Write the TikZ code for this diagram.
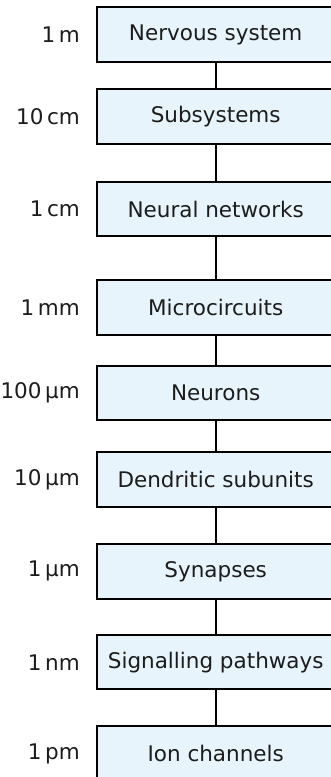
\documentclass[tikz,border=0pt]{standalone}
\usepackage{fontspec}
\setmainfont{DejaVu Sans}
\usetikzlibrary{positioning}

\definecolor{boxblue}{RGB}{231,244,252}
\definecolor{textgray}{RGB}{28,28,28}

\begin{document}
\begin{tikzpicture}[x=1pt,y=1pt,
	every node/.style={font=\fontsize{21.5}{25}\selectfont,text=textgray},
	level/.style={draw=black,line width=2pt,fill=boxblue,
		minimum width=238pt,minimum height=54.5pt,inner sep=0pt},
	sizelabel/.style={inner sep=0pt}]
	\useasboundingbox (0,0) rectangle (330,-777);

	% levels of organisation, top to bottom
	\node[level] (ns)  at (215.7,-34.5)  {Nervous system};
	\node[level] (sub) at (215.7,-116.7) {Subsystems};
	\node[level] (net) at (215.7,-209.2) {Neural networks};
	\node[level] (mc)  at (215.7,-307.5) {Microcircuits};
	\node[level] (neu) at (215.7,-393.2) {Neurons};
	\node[level] (den) at (215.7,-479.7) {Dendritic subunits};
	\node[level] (syn) at (215.7,-571.3) {Synapses};
	\node[level] (sig) at (215.7,-662.2) {Signalling pathways};
	\node[level] (ion) at (215.7,-753.6) {Ion channels};

	% length scales
	\node[sizelabel] (lns)  [left=15.7pt of ns]  {1\,m};
	\node[sizelabel] (lsub) [left=15.7pt of sub] {10\,cm};
	\node[sizelabel] (lnet) [left=15.7pt of net] {1\,cm};
	\node[sizelabel] (lmc)  [left=15.7pt of mc]  {1\,mm};
	\node[sizelabel] (lneu) [left=15.7pt of neu] {100\,µm};
	\node[sizelabel] (lden) [left=15.7pt of den] {10\,µm};
	\node[sizelabel] (lsyn) [left=15.7pt of syn] {1\,µm};
	\node[sizelabel] (lsig) [left=15.7pt of sig] {1\,nm};
	\node[sizelabel] (lion) [left=15.7pt of ion] {1\,pm};

	\path[draw,line width=2pt]
	(ns) edge (sub)
	(sub) edge (net)
	(net) edge (mc)
	(mc) edge (neu)
	(neu) edge (den)
	(den) edge (syn)
	(syn) edge (sig)
	(sig) edge (ion)
	;
\end{tikzpicture}
\end{document}
